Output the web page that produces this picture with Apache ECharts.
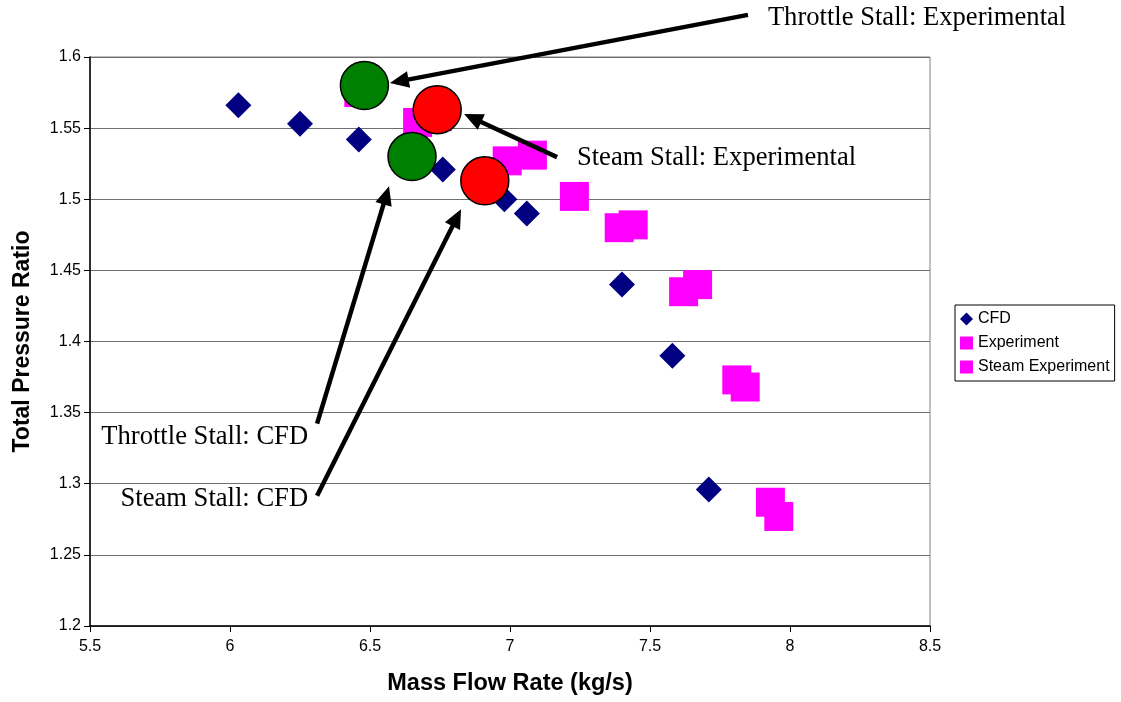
<!DOCTYPE html>
<html>
<head>
<meta charset="utf-8">
<script src="https://cdn.jsdelivr.net/npm/echarts@6/dist/echarts.min.js"></script>
<style>
html,body{margin:0;padding:0;background:#fff;}
#chart{width:1121px;height:702px;}
</style>
</head>
<body>
<div id="chart"></div>
<script>
// ---- data ----
const cfdData = [[6.03,1.566],[6.25,1.553],[6.46,1.542],[6.76,1.521],[6.98,1.500],[7.06,1.490],[7.40,1.440],[7.58,1.390],[7.71,1.296]];
const experimentData = [[6.46,1.575],[6.67,1.554],[6.99,1.527],[7.23,1.502],[7.39,1.480],[7.62,1.435],[7.81,1.373],[7.93,1.287]];
const steamExperimentData = [[6.74,1.558],[7.08,1.531],[7.44,1.482],[7.67,1.440],[7.84,1.368],[7.96,1.277]];
const throttleStallPoints = [[6.48,1.580],[6.65,1.530]];
const steamStallPoints = [[6.74,1.563],[6.91,1.513]];
const xTicks = {min:5.5, max:8.5, interval:0.5};
const yTicks = {min:1.2, max:1.6, interval:0.05};
// annotation arrows: [tail, tip] in data units
const arrowLines = [
  [[7.85,1.6296],[6.571,1.5817]],
  [[7.168,1.5296],[6.836,1.5599]],
  [[6.311,1.3423],[6.568,1.5092]],
  [[6.311,1.2915],[6.825,1.4930]]
];
const annotationTexts = ['Throttle Stall: Experimental','Steam Stall: Experimental','Throttle Stall: CFD','Steam Stall: CFD'];
const annotationAnchors = [[7.921,1.6275],[7.239,1.5289],[6.279,1.3331],[6.279,1.2894]];
const annotationAlign = ['left','left','right','right'];

const chart = echarts.init(document.getElementById('chart'));
const option = {
  animation:false,
  backgroundColor:'#fff',
  grid:{left:90,right:191,top:57,bottom:76,show:true,borderColor:'#808080',borderWidth:1,backgroundColor:'#fff'},
  legend:{
    orient:'vertical',left:955,top:305,
    borderColor:'#000',borderWidth:1,padding:[6,5,6,5],
    itemWidth:13,itemHeight:13,itemGap:8,
    textStyle:{fontFamily:'Liberation Sans',fontSize:16,color:'#000'},
    data:[{name:'CFD',icon:'diamond'},{name:'Experiment',icon:'rect'},{name:'Steam Experiment',icon:'rect'}]
  },
  xAxis:{
    type:'value',min:xTicks.min,max:xTicks.max,interval:xTicks.interval,
    name:'Mass Flow Rate (kg/s)',nameLocation:'middle',nameGap:46,
    nameTextStyle:{fontFamily:'Liberation Sans',fontWeight:'bold',fontSize:23.5,color:'#000'},
    axisLine:{show:true,onZero:false,lineStyle:{color:'#000',width:1.5}},
    axisTick:{show:true,length:6,lineStyle:{color:'#000'}},
    axisLabel:{margin:13,fontFamily:'Liberation Sans',fontSize:16,color:'#000'},
    splitLine:{show:false}
  },
  yAxis:{
    type:'value',min:yTicks.min,max:yTicks.max,interval:yTicks.interval,
    name:'Total Pressure Ratio',nameLocation:'middle',nameGap:56,
    nameTextStyle:{fontFamily:'Liberation Sans',fontWeight:'bold',fontSize:23,color:'#000'},
    axisLine:{show:true,onZero:false,lineStyle:{color:'#000',width:1.5}},
    axisTick:{show:true,length:6,lineStyle:{color:'#000'}},
    axisLabel:{margin:9,fontFamily:'Liberation Sans',fontSize:16,color:'#000'},
    splitLine:{show:true,lineStyle:{color:'#6e6e6e',width:1}}
  },
  series:[
    {name:'CFD',type:'scatter',symbol:'diamond',symbolSize:26,data:cfdData,itemStyle:{color:'#000080',opacity:1},z:2},
    {name:'Experiment',type:'scatter',symbol:'rect',symbolSize:29,data:experimentData,itemStyle:{color:'#FF00FF',opacity:1},z:3},
    {name:'Steam Experiment',type:'scatter',symbol:'rect',symbolSize:29,data:steamExperimentData,itemStyle:{color:'#FF00FF',opacity:1},z:3},
    {name:'Throttle Stall',type:'scatter',symbol:'circle',symbolSize:48,data:throttleStallPoints,itemStyle:{color:'#008000',borderColor:'#000',borderWidth:1.5,opacity:1},z:4},
    {name:'Steam Stall',type:'scatter',symbol:'circle',symbolSize:48,data:steamStallPoints,itemStyle:{color:'#FF0000',borderColor:'#000',borderWidth:1.5,opacity:1},z:4}
  ]
};
chart.setOption(option);

function toPx(p){ return chart.convertToPixel({gridIndex:0}, p); }
const graphics = [];
const headLen = 19, headHalf = 8.5;
arrowLines.forEach(function(a){
  const t = toPx(a[0]), h = toPx(a[1]);
  const dx = h[0]-t[0], dy = h[1]-t[1];
  const L = Math.sqrt(dx*dx+dy*dy);
  const ux = dx/L, uy = dy/L;
  const bx = h[0]-ux*headLen, by = h[1]-uy*headLen;
  graphics.push({type:'line',z:100,shape:{x1:t[0],y1:t[1],x2:bx+ux*2,y2:by+uy*2},style:{stroke:'#000',lineWidth:4.5}});
  graphics.push({type:'polygon',z:100,shape:{points:[[h[0],h[1]],[bx-uy*headHalf,by+ux*headHalf],[bx+uy*headHalf,by-ux*headHalf]]},style:{fill:'#000'}});
});
annotationTexts.forEach(function(txt,i){
  const p = toPx(annotationAnchors[i]);
  graphics.push({type:'text',z:100,x:p[0],y:p[1],style:{text:txt,fill:'#000',font:'26.6px "Liberation Serif"',textAlign:annotationAlign[i],textVerticalAlign:'middle'}});
});
chart.setOption({graphic:graphics});
</script>
</body>
</html>
